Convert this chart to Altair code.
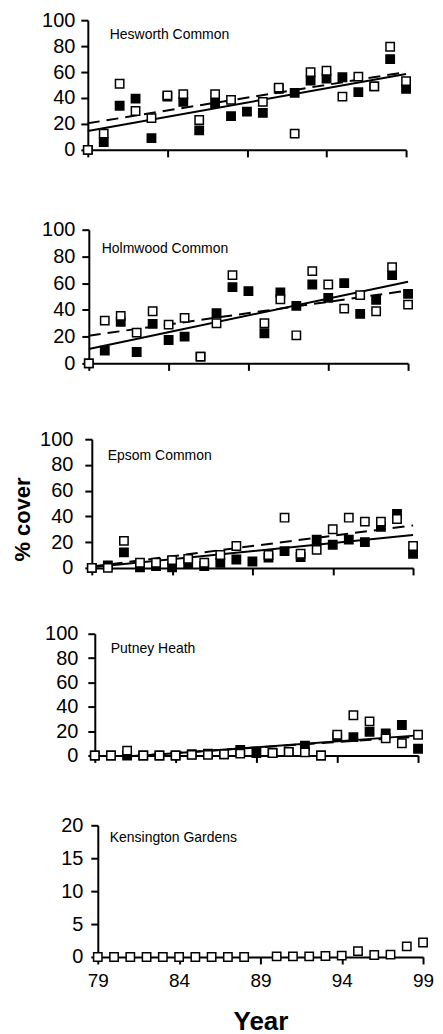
import altair as alt
import pandas as pd

N = None
FONT = "Liberation Sans"

years = list(range(79, 100))
fit_years = [79, 99]
x_ticks = [79, 84, 89, 94, 99]

site_names = ["Hesworth Common", "Holmwood Common", "Epsom Common", "Putney Heath", "Kensington Gardens"]

# open squares (white) and filled squares (black), % cover per year 1979-1999
hes_open = [0, 12.5, 51, 30, 24.5, 42, 43, 23, 43, 38.5, N, 37, 48, 12.5, 60, 61, 41, 56.5, 49, 79.5, 53]
hes_filled = [0, 6, 34, 39.5, 9, 41, 37, 15, 36, 26, 29.5, 28.5, 47, 44, 53.5, 55, 56, 44.5, 49, 70, 47]
hes_solid = [14.5, 58.5]
hes_dashed = [20.5, 60]

hol_open = [0, 32, 35.5, 23, 39, 29, 34, 5, 30, 66, N, 30, 48, 21, 69, 59, 41, 51, 39, 72, 44]
hol_filled = [0, 9.5, 31, 8.5, 29.5, 17.5, 20, 5, 37.5, 57, 54, 22.5, 53, 43, 59, 49, 60, 37, 47.5, 66, 52]
hol_solid = [10.7, 61]
hol_dashed = [20.7, 54.5]

eps_open = [0, 0, 21, 4, 4, 6, 7, 4, 10, 17, N, 10, 39, 11, 14, 30, 39, 36, 36, 38, 17]
eps_filled = [0, 2, 12, 0.5, 1.5, 0.5, 3, 1.5, 4, 6.5, 5, 8, 13, 8.5, 22, 18, 22, 20, 32, 42, 11]
eps_solid = [0.5, 25.5]
eps_dashed = [1, 33]

put_open = [0, 0, 4, 0, 0, 0, 0.5, 0.5, 1, 1.5, N, 2, 3, 2.5, 0, 17, 33, 28, 14, 10, 17]
put_filled = [0, 0, 0, 0, 0, 0, 1, 1.5, 1, 4.5, 2, 2, 3, 8, 0, 15, 15, 19.5, 18, 25, 5.5]
put_solid = [-3, 16.5]
put_dashed = [-2.5, 15.5]

ken_open = [0, 0, 0, 0, 0, 0, 0, 0, 0, 0, N, 0.1, 0.1, 0.1, 0.15, 0.2, 0.9, 0.3, 0.35, 1.6, 2.2]

axis_common = dict(
    domainColor="black", domainWidth=2, tickColor="black", tickWidth=2, tickSize=7,
    grid=False, labelColor="black", labelFont=FONT, titleFont=FONT, titleColor="black",
)

PANEL_W = 338


def make_panel(idx, open_v, filled_v, solid, dashed, ymax, ystep, h, t, s, e,
               lab_pad, label_xy, show_x, y_title):
    xs = alt.Scale(domain=[79, 99], range=[s, e], nice=False, zero=False)
    ys = alt.Scale(domain=[0, ymax], range=[h, t], nice=False)
    if show_x:
        xaxis = alt.Axis(values=x_ticks, labels=True, labelFontSize=19, labelPadding=8,
                         labelFlush=False, labelOverlap=False,
                         title="Year", titleFontSize=26, titleFontWeight="bold",
                         titlePadding=18, **axis_common)
    else:
        xaxis = alt.Axis(values=x_ticks, labels=False, title=None, **axis_common)
    yargs = dict(values=list(range(0, ymax + 1, ystep)), offset=-s, labelFontSize=20,
                 labelPadding=lab_pad, labelFlush=False, labelOverlap=False, **axis_common)
    if y_title:
        yaxis = alt.Axis(title=y_title, titleFontSize=22, titleFontWeight="bold",
                         titleAngle=270, titleAlign="center", titleBaseline="middle",
                         titleX=-69, titleY=156, **yargs)
    else:
        yaxis = alt.Axis(title=None, **yargs)

    X = alt.X("year:Q", scale=xs, axis=xaxis)
    Y = alt.Y("value:Q", scale=ys, axis=yaxis)

    layers = []
    if solid is not None:
        dsol = pd.DataFrame({"year": fit_years, "value": solid})
        ddash = pd.DataFrame({"year": fit_years, "value": dashed})
        layers.append(alt.Chart(dsol).mark_line(color="black", strokeWidth=2, clip=True).encode(x=X, y=Y))
        layers.append(alt.Chart(ddash).mark_line(color="black", strokeWidth=2, strokeDash=[12, 7],
                                                 clip=True).encode(x=X, y=Y))
    if filled_v is not None:
        dff = pd.DataFrame({"year": years, "value": filled_v}).dropna()
        layers.append(alt.Chart(dff).mark_square(size=70, filled=True, fill="black", stroke="black",
                                                 strokeWidth=1.5, opacity=1).encode(x=X, y=Y))
    dfo = pd.DataFrame({"year": years, "value": open_v}).dropna()
    layers.append(alt.Chart(dfo).mark_square(size=70, filled=True, fill="white", stroke="black",
                                             strokeWidth=1.5, opacity=1).encode(x=X, y=Y))
    dlab = pd.DataFrame({"label": [site_names[idx]]})
    layers.append(alt.Chart(dlab).mark_text(align="left", baseline="middle", font=FONT, fontSize=14,
                                            color="black").encode(
        x=alt.value(label_xy[0]), y=alt.value(label_xy[1]), text="label:N"))
    return alt.layer(*layers).properties(width=PANEL_W, height=h)


p1 = make_panel(0, hes_open, hes_filled, hes_solid, hes_dashed, 100, 20, 140, 10, 2, 321, 6, (24, 25), False, None)
p2 = make_panel(1, hol_open, hol_filled, hol_solid, hol_dashed, 100, 20, 214, 80, 3, 323, 7, (16, 99), False, None)
p3 = make_panel(2, eps_open, eps_filled, eps_solid, eps_dashed, 100, 20, 205, 76, 6, 328, 12, (22, 93), False, "% cover")
p4 = make_panel(3, put_open, put_filled, put_solid, put_dashed, 100, 20, 188, 66, 9, 333, 10, (25, 81), False, None)
p5 = make_panel(4, ken_open, None, None, None, 20, 5, 202, 70, 12, 338, 8, (24, 83), True, None)

chart = alt.vconcat(p1, p2, p3, p4, p5, spacing=0, bounds="flush").properties(
    padding={"left": 3, "top": 0, "right": 0, "bottom": 0},
    background="white",
).configure_view(stroke="transparent")

chart.save("out.html", embed_options={"renderer": "svg", "actions": False})
